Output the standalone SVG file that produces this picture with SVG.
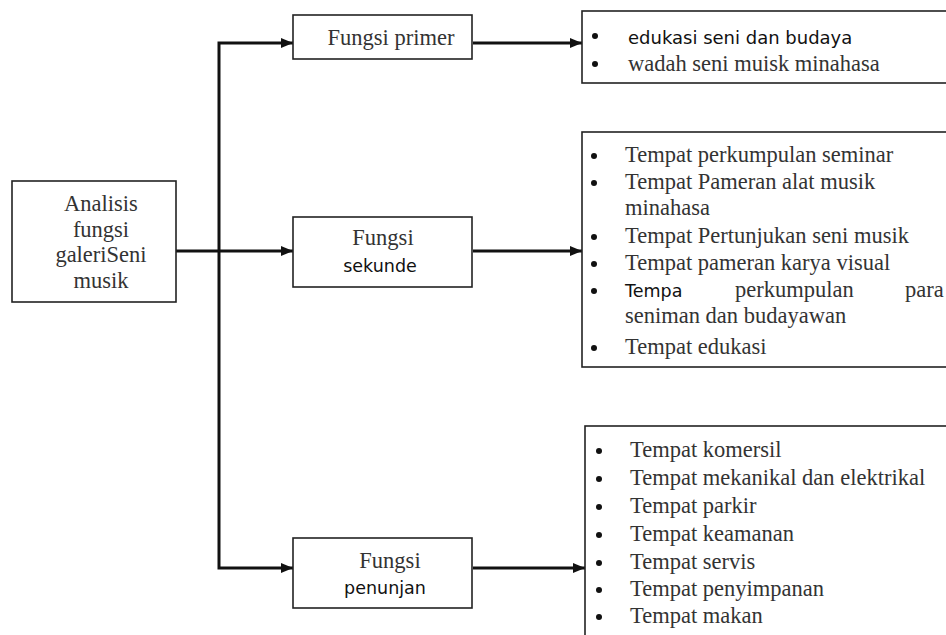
<svg xmlns="http://www.w3.org/2000/svg" width="946" height="635" viewBox="0 0 946 635">
<style>
.box{fill:#fff;stroke:#222;stroke-width:1.6}
.conn{fill:none;stroke:#111;stroke-width:3}
.serif{font-family:"Liberation Serif","Times New Roman",serif;font-size:22.5px;fill:#333}
.sans{font-family:"DejaVu Sans",Verdana,sans-serif;font-size:17.5px;fill:#111}
.mid{text-anchor:middle}
.dot{fill:#111}
</style>
<defs>
<marker id="arr" viewBox="0 0 12 10" refX="12" refY="5" markerWidth="12" markerHeight="10" markerUnits="userSpaceOnUse" orient="auto-start-reverse">
<path d="M0,0 L12,5 L0,10 Z" fill="#111"/>
</marker>
</defs>
<rect width="946" height="635" fill="#fff"/>

<g id="connectors">
<path class="conn" d="M293,43 H219 V568 H293" marker-start="url(#arr)" marker-end="url(#arr)"/>
<path class="conn" d="M176,251 H293" marker-end="url(#arr)"/>
<path class="conn" d="M473,43 H582" marker-end="url(#arr)"/>
<path class="conn" d="M473,251 H582" marker-end="url(#arr)"/>
<path class="conn" d="M473,568 H585" marker-end="url(#arr)"/>
</g>

<g id="analisis">
<rect class="box" x="12" y="181" width="164" height="121"/>
<text class="serif mid" x="101" y="211">Analisis</text>
<text class="serif mid" x="101" y="237">fungsi</text>
<text class="serif mid" x="101" y="262">galeriSeni</text>
<text class="serif mid" x="101" y="288">musik</text>
</g>

<g id="fungsi-primer">
<rect class="box" x="293" y="15" width="179" height="44"/>
<text class="serif mid" x="391" y="45">Fungsi primer</text>
</g>

<g id="fungsi-sekunde">
<rect class="box" x="293" y="217" width="179" height="70"/>
<text class="serif mid" x="383" y="245">Fungsi</text>
<text class="sans mid" x="380" y="272">sekunde</text>
</g>

<g id="fungsi-penunjan">
<rect class="box" x="293" y="538" width="179" height="70"/>
<text class="serif mid" x="390" y="568">Fungsi</text>
<text class="sans mid" x="385" y="594">penunjan</text>
</g>

<g id="list-primer">
<rect class="box" x="582" y="11" width="380" height="72"/>
<circle class="dot" cx="595" cy="36" r="3"/>
<circle class="dot" cx="595" cy="64" r="3"/>
<text class="sans" x="628" y="44" style="font-size:18px">edukasi seni dan budaya</text>
<text class="serif" x="628" y="71">wadah seni muisk minahasa</text>
</g>

<g id="list-sekunde">
<rect class="box" x="582" y="132" width="380" height="235"/>
<circle class="dot" cx="594" cy="156" r="3"/>
<circle class="dot" cx="594" cy="183" r="3"/>
<circle class="dot" cx="594" cy="237" r="3"/>
<circle class="dot" cx="594" cy="264" r="3"/>
<circle class="dot" cx="594" cy="291" r="3"/>
<circle class="dot" cx="594" cy="348" r="3"/>
<text class="serif" x="625" y="162">Tempat perkumpulan seminar</text>
<text class="serif" x="625" y="189">Tempat Pameran alat musik</text>
<text class="serif" x="625" y="215">minahasa</text>
<text class="serif" x="625" y="243">Tempat Pertunjukan seni musik</text>
<text class="serif" x="625" y="270">Tempat pameran karya visual</text>
<text class="sans" x="625" y="297">Tempa</text>
<text class="serif" x="735" y="297">perkumpulan</text>
<text class="serif" x="905" y="297">para</text>
<text class="serif" x="625" y="323">seniman dan budayawan</text>
<text class="serif" x="625" y="354">Tempat edukasi</text>
</g>

<g id="list-penunjang">
<rect class="box" x="585" y="426" width="380" height="230"/>
<circle class="dot" cx="599" cy="451" r="3"/>
<circle class="dot" cx="599" cy="479" r="3"/>
<circle class="dot" cx="599" cy="507" r="3"/>
<circle class="dot" cx="599" cy="535" r="3"/>
<circle class="dot" cx="599" cy="563" r="3"/>
<circle class="dot" cx="599" cy="590" r="3"/>
<circle class="dot" cx="599" cy="617" r="3"/>
<text class="serif" x="630" y="457">Tempat komersil</text>
<text class="serif" x="630" y="485">Tempat mekanikal dan elektrikal</text>
<text class="serif" x="630" y="513">Tempat parkir</text>
<text class="serif" x="630" y="541">Tempat keamanan</text>
<text class="serif" x="630" y="569">Tempat servis</text>
<text class="serif" x="630" y="596">Tempat penyimpanan</text>
<text class="serif" x="630" y="623">Tempat makan</text>
</g>
</svg>
